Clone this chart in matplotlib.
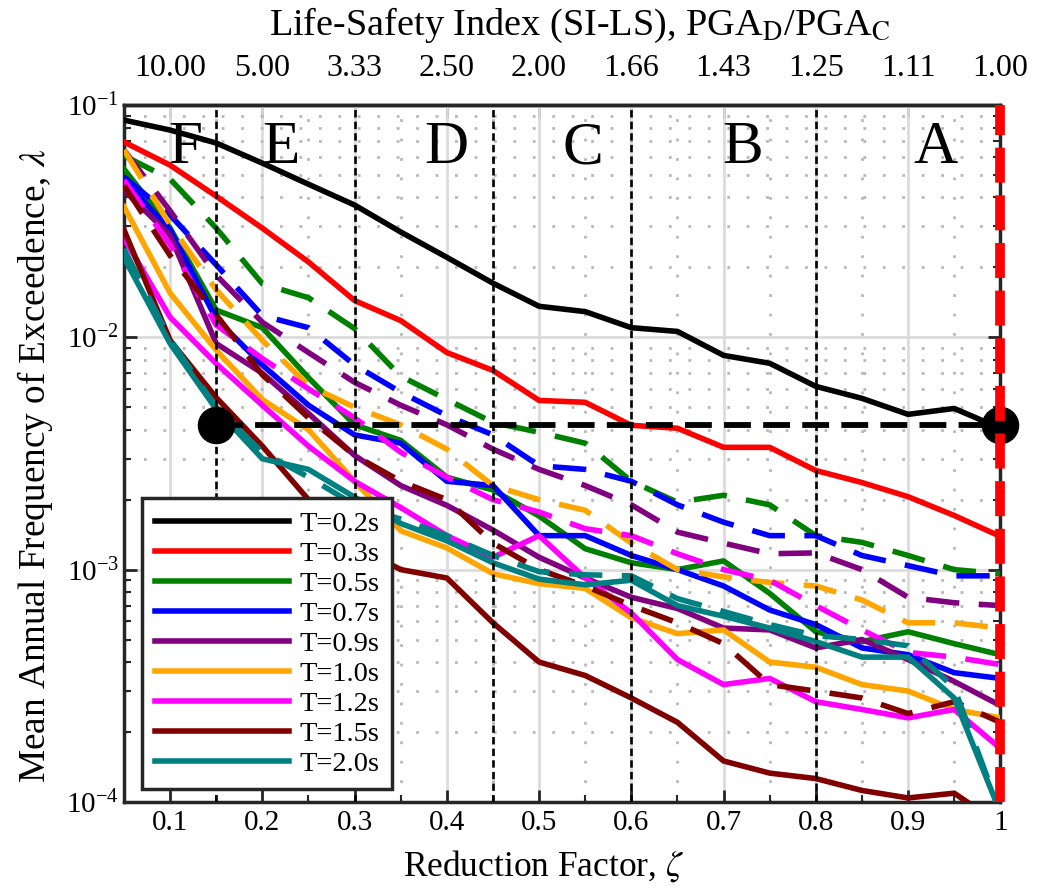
import matplotlib
matplotlib.use('Agg')
import matplotlib.pyplot as plt
from matplotlib.ticker import FixedLocator, NullFormatter, LogLocator

plt.rcParams['font.family'] = ['Liberation Serif', 'DejaVu Serif']
plt.rcParams['mathtext.fontset'] = 'stix'

# reduction factor sampling
zeta = [0.05, 0.10, 0.15, 0.20, 0.25, 0.30, 0.35, 0.40, 0.45, 0.50,
        0.55, 0.60, 0.65, 0.70, 0.75, 0.80, 0.85, 0.90, 0.95, 1.00]

periods = ['T=0.2s', 'T=0.3s', 'T=0.5s', 'T=0.7s', 'T=0.9s',
           'T=1.0s', 'T=1.2s', 'T=1.5s', 'T=2.0s']
colors = ['black', '#ff0000', '#008000', '#0000ff', '#800080',
          '#ffa500', '#ff00ff', '#800000', '#008080']

# solid curves
lam_02 = [0.0861, 0.078, 0.0686, 0.0562, 0.0456, 0.0371, 0.0284, 0.0221, 0.0171, 0.0136,
          0.0129, 0.0110, 0.0106, 0.00836, 0.00773, 0.00615, 0.00546, 0.00466, 0.00494, 0.00406]
lam_03 = [0.0693, 0.0551, 0.0405, 0.0295, 0.0211, 0.0144, 0.0118, 0.0086, 0.0072, 0.00535,
          0.00525, 0.00418, 0.00406, 0.00336, 0.00336, 0.00267, 0.00237, 0.00206, 0.00171, 0.00139]
lam_05 = [0.053, 0.0295, 0.0131, 0.011, 0.0067, 0.0042, 0.0036, 0.0025, 0.0022, 0.0017,
          0.00123, 0.00107, 0.0010, 0.00109, 0.00079, 0.00054, 0.00049, 0.00054, 0.00048, 0.00043]
lam_07 = [0.0475, 0.029, 0.012, 0.0076, 0.0051, 0.0038, 0.0035, 0.0024, 0.0023, 0.0014,
          0.0014, 0.00115, 0.0010, 0.00085, 0.00067, 0.00058, 0.00046, 0.00043, 0.00036, 0.00034]
lam_09 = [0.043, 0.0275, 0.0094, 0.0070, 0.0047, 0.0031, 0.0023, 0.00189, 0.00148, 0.00113,
          0.00092, 0.00076, 0.00068, 0.00056, 0.00055, 0.00046, 0.0005, 0.00041, 0.00033, 0.00026]
lam_10 = [0.0365, 0.0155, 0.0088, 0.0054, 0.0040, 0.0024, 0.00147, 0.00124, 0.00096, 0.00087,
          0.00083, 0.00062, 0.00053, 0.00055, 0.0004, 0.00038, 0.00032, 0.0003, 0.00025, 0.00023]
lam_12 = [0.0267, 0.0122, 0.0077, 0.0051, 0.0034, 0.0024, 0.00185, 0.0014, 0.00113, 0.0014,
          0.00092, 0.00065, 0.00041, 0.00032, 0.00034, 0.00027, 0.00025, 0.00023, 0.00025, 0.00017]
lam_15 = [0.029, 0.0097, 0.0055, 0.0034, 0.0020, 0.00127, 0.0010, 0.00092, 0.00059, 0.0004,
          0.00035, 0.00028, 0.00022, 0.00015, 0.000133, 0.000126, 0.000112, 0.000104, 0.000109, 0.00008]
lam_20 = [0.022, 0.0094, 0.0049, 0.0030, 0.0027, 0.00205, 0.00158, 0.00133, 0.00107, 0.00091,
          0.00086, 0.0009, 0.0007, 0.00063, 0.00056, 0.00049, 0.00042, 0.00042, 0.00028, 0.00009]

# dashed curves
lamd_05 = [0.0605, 0.048, 0.0295, 0.017, 0.0148, 0.0109, 0.0068, 0.0054, 0.0043, 0.0039,
           0.0035, 0.0024, 0.00195, 0.00209, 0.0019, 0.0014, 0.00131, 0.00115, 0.0010, 0.00096]
lamd_07 = [0.049, 0.0336, 0.0205, 0.0124, 0.011, 0.0076, 0.0058, 0.0046, 0.0038, 0.0028,
           0.0027, 0.0024, 0.0019, 0.0016, 0.0014, 0.0014, 0.00115, 0.00104, 0.00094, 0.00094]
lamd_09 = [0.064, 0.035, 0.0185, 0.0116, 0.0086, 0.0064, 0.0051, 0.0042, 0.0033, 0.0027,
           0.0023, 0.0019, 0.00145, 0.0013, 0.00117, 0.00118, 0.0010, 0.00076, 0.00072, 0.0007]
lamd_10 = [0.064, 0.0305, 0.016, 0.0097, 0.0062, 0.0050, 0.0042, 0.0033, 0.0023, 0.0020,
           0.0018, 0.0013, 0.0010, 0.00093, 0.00088, 0.00085, 0.00074, 0.00059, 0.00059, 0.00056]
lamd_12 = [0.0475, 0.025, 0.0113, 0.0081, 0.0060, 0.0045, 0.0032, 0.0025, 0.0020, 0.00177,
           0.0015, 0.0014, 0.00117, 0.0010, 0.0009, 0.0007, 0.00055, 0.00044, 0.00042, 0.00039]
lamd_15 = [0.045, 0.0225, 0.0125, 0.0069, 0.0045, 0.0031, 0.0024, 0.0020, 0.0013, 0.0010,
           0.00085, 0.0007, 0.00059, 0.00048, 0.00032, 0.0003, 0.00028, 0.00024, 0.00027, 0.00022]
lamd_20 = [0.024, 0.0098, 0.0050, 0.0032, 0.0025, 0.0019, 0.00165, 0.0014, 0.00115, 0.00098,
           0.00095, 0.00094, 0.00075, 0.00066, 0.00058, 0.00052, 0.0005, 0.00047, 0.00031, 0.00009]

solid = [lam_02, lam_03, lam_05, lam_07, lam_09, lam_10, lam_12, lam_15, lam_20]
dashed = [None, None, lamd_05, lamd_07, lamd_09, lamd_10, lamd_12, lamd_15, lamd_20]

# zones and target
zone_edges = [0.15, 0.30, 0.45, 0.60, 0.80]
zone_names = ['F', 'E', 'D', 'C', 'B', 'A']
zone_x = [0.116, 0.22, 0.399, 0.547, 0.721, 0.93]
lam_target = 0.0042
zeta_min = 0.15

top_ticks = [0.1, 0.2, 0.3, 0.4, 0.5, 0.6, 0.7, 0.8, 0.9, 1.0]
top_labels = ['10.00', '5.00', '3.33', '2.50', '2.00', '1.66', '1.43', '1.25', '1.11', '1.00']

fig = plt.figure(figsize=(10.42, 8.9), dpi=100)
ax = fig.add_axes([0.119, 0.099, 0.841, 0.783])

for i in range(len(periods)):
    ax.plot(zeta, solid[i], color=colors[i], lw=4, label=periods[i], zorder=3)
    if dashed[i] is not None:
        ax.plot(zeta, dashed[i], color=colors[i], lw=4, ls=(0, (6, 3.5)), zorder=3)

ax.set_yscale('log')
ax.set_xlim(0.05, 1.0)
ax.set_ylim(1e-4, 1e-1)

for xe in zone_edges:
    ax.axvline(xe, color='black', lw=1.9, ls=(0, (2.8, 1.6)), zorder=4)
for name, xz in zip(zone_names, zone_x):
    ax.text(xz, 0.065, name, fontsize=44, ha='center', va='center', zorder=5)

ax.plot([zeta_min, 1.0], [lam_target, lam_target], color='black', lw=4.2,
        ls=(0, (4.6, 2.1)), zorder=5)
ax.plot([zeta_min, 1.0], [lam_target, lam_target], 'o', color='black', ms=26,
        zorder=6, clip_on=False)
ax.axvline(1.0, color='#ff0000', lw=7, ls=(0, (3.6, 1.3)), zorder=7, clip_on=False)

ax.xaxis.set_major_locator(FixedLocator(top_ticks))
ax.xaxis.set_minor_locator(FixedLocator([0.15, 0.25, 0.35, 0.45, 0.55, 0.65, 0.75, 0.85, 0.95]))
ax.set_xticklabels(['0.1', '0.2', '0.3', '0.4', '0.5', '0.6', '0.7', '0.8', '0.9', '1'])
ax.yaxis.set_minor_locator(LogLocator(base=10, subs=[2, 3, 4, 5, 6, 7, 8, 9]))
ax.yaxis.set_minor_formatter(NullFormatter())

ax.grid(True, which='major', color='#dcdcdc', lw=2, ls='-', zorder=0)
ax.grid(True, which='minor', color='#b8b8b8', lw=2, ls=(0, (1, 6)), zorder=0)
ax.set_axisbelow(True)

ax.tick_params(which='both', direction='in', right=True, labelsize=21, color='#262626')
ax.tick_params(which='major', length=9, width=2)
ax.tick_params(which='minor', length=5, width=1.5)
ax.tick_params(axis='x', pad=6)
for sp in ax.spines.values():
    sp.set_linewidth(2.5)
    sp.set_color('#262626')

ax.set_xlabel(r'Reduction Factor, $\zeta$', fontsize=25.5)
ax.xaxis.set_label_coords(0.479, -0.066)
ax.set_ylabel(r'Mean Annual Frequency of Exceedence, $\lambda$', fontsize=26.8)
ax.yaxis.set_label_coords(-0.079, 0.483)

top = ax.secondary_xaxis('top')
top.set_xticks(top_ticks)
top.set_xticklabels(top_labels)
top.tick_params(direction='in', length=9, width=2, labelsize=23, color='#262626', pad=16)
top.spines['top'].set_linewidth(2.5)
fig.text(0.5565, 0.9607, r'Life-Safety Index (SI-LS), PGA$_\mathrm{D}$/PGA$_\mathrm{C}$',
         fontsize=27.5, ha='center', va='baseline')

leg = ax.legend(loc='lower left', bbox_to_anchor=(0.021, 0.018), borderaxespad=0,
                fontsize=20.5, handlelength=4.7, labelspacing=0.14, handletextpad=0.35,
                fancybox=False, framealpha=1, edgecolor='#262626', borderpad=0.45)
leg.get_frame().set_linewidth(2.5)
leg.set_zorder(10)

fig.savefig('out.png', dpi=100)
